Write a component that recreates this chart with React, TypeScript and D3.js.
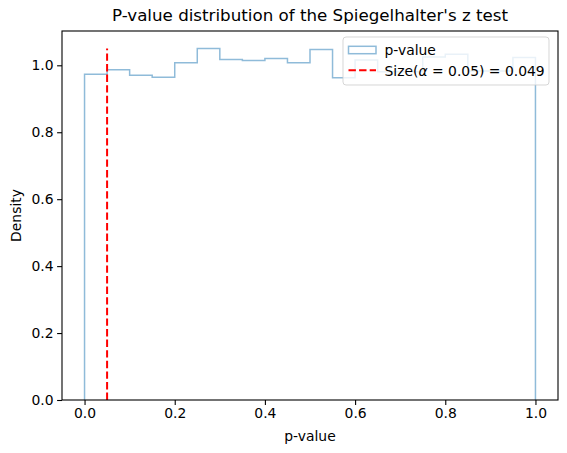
import React, { useRef, useEffect } from 'react';
import * as d3 from 'd3';

// bin edges: 20 equal bins on [0, 1]
const binEdges: number[] = d3.range(21).map((i) => i / 20);
// density of each bin
const densities: number[] = [
  0.973, 0.987, 0.970, 0.964, 1.008, 1.050, 1.017, 1.014, 1.020, 1.008,
  1.047, 0.963, 1.016, 0.981, 0.981, 1.025, 1.033, 0.983, 0.983, 1.023,
];
const xTicks: number[] = [0, 0.2, 0.4, 0.6, 0.8, 1.0];
const yTicks: number[] = [0, 0.2, 0.4, 0.6, 0.8, 1.0];
const alphaLevel = 0.05;
const sizeValue = 0.049;

const W = 567;
const H = 453;
const FONT = 'DejaVu Sans, sans-serif';
const HIST_COLOR = '#8fbbd9';

export const PValueHist = () => {
  const ref = useRef<SVGSVGElement>(null);

  useEffect(() => {
    if (!ref.current) return;
    const svg = d3.select(ref.current);
    svg.selectAll('*').remove();

    const margin = { left: 62, right: 9, top: 31, bottom: 53 };
    const x = d3.scaleLinear().domain([-0.05, 1.05]).range([margin.left, W - margin.right]);
    const yMax = d3.max(densities)! * 1.05;
    const y = d3.scaleLinear().domain([0, yMax]).range([H - margin.bottom, margin.top]);

    // step outline of the histogram
    const pts: [number, number][] = [[binEdges[0], 0]];
    densities.forEach((d, i) => pts.push([binEdges[i], d]));
    pts.push([binEdges[20], densities[19]]);
    pts.push([binEdges[20], 0]);
    const line = d3
      .line<[number, number]>()
      .x((p) => x(p[0]))
      .y((p) => y(p[1]))
      .curve(d3.curveStepAfter);

    svg
      .append('path')
      .attr('d', line(pts))
      .attr('fill', 'none')
      .attr('stroke', HIST_COLOR)
      .attr('stroke-width', 1.5);

    // size marker at alpha
    svg
      .append('line')
      .attr('x1', x(alphaLevel))
      .attr('x2', x(alphaLevel))
      .attr('y1', y(0))
      .attr('y2', y(d3.max(densities)!))
      .attr('stroke', 'red')
      .attr('stroke-width', 2)
      .attr('stroke-dasharray', '7.4,3.2');

    // axes
    const xAxis = svg
      .append('g')
      .attr('transform', `translate(0,${H - margin.bottom})`)
      .call(d3.axisBottom(x).tickValues(xTicks).tickFormat(d3.format('.1f')).tickSizeOuter(0).tickSize(4.9));
    const yAxis = svg
      .append('g')
      .attr('transform', `translate(${margin.left},0)`)
      .call(d3.axisLeft(y).tickValues(yTicks).tickFormat(d3.format('.1f')).tickSizeOuter(0).tickSize(4.9));
    [xAxis, yAxis].forEach((g) => {
      g.select('.domain').remove();
      g.selectAll('text').attr('font-family', FONT).attr('font-size', 13.9).attr('fill', '#000');
      g.selectAll('line').attr('stroke', '#000').attr('stroke-width', 1.1);
    });
    xAxis.selectAll('text').attr('dy', '0.71em').attr('y', 8.4);
    yAxis.selectAll('text').attr('x', -8.4);

    // frame
    svg
      .append('rect')
      .attr('x', margin.left)
      .attr('y', margin.top)
      .attr('width', W - margin.right - margin.left)
      .attr('height', H - margin.bottom - margin.top)
      .attr('fill', 'none')
      .attr('stroke', '#000')
      .attr('stroke-width', 1.1);

    // labels
    svg
      .append('text')
      .attr('x', (margin.left + W - margin.right) / 2)
      .attr('y', 21)
      .attr('text-anchor', 'middle')
      .attr('font-family', FONT)
      .attr('font-size', 16.7)
      .text("P-value distribution of the Spiegelhalter's z test");
    svg
      .append('text')
      .attr('x', (margin.left + W - margin.right) / 2)
      .attr('y', 441)
      .attr('text-anchor', 'middle')
      .attr('font-family', FONT)
      .attr('font-size', 13.9)
      .text('p-value');
    svg
      .append('text')
      .attr('transform', `translate(21,${(margin.top + H - margin.bottom) / 2}) rotate(-90)`)
      .attr('text-anchor', 'middle')
      .attr('font-family', FONT)
      .attr('font-size', 13.9)
      .text('Density');

    // legend
    const lg = svg.append('g').attr('transform', 'translate(343,37)');
    lg.append('rect')
      .attr('width', 206)
      .attr('height', 48)
      .attr('rx', 3)
      .attr('fill', 'white')
      .attr('fill-opacity', 0.8)
      .attr('stroke', '#cccccc')
      .attr('stroke-opacity', 0.8);
    lg.append('rect')
      .attr('x', 5.5)
      .attr('y', 9.3)
      .attr('width', 27.5)
      .attr('height', 7.4)
      .attr('fill', 'none')
      .attr('stroke', HIST_COLOR)
      .attr('stroke-width', 1.5);
    lg.append('line')
      .attr('x1', 5.5)
      .attr('x2', 33)
      .attr('y1', 33.3)
      .attr('y2', 33.3)
      .attr('stroke', 'red')
      .attr('stroke-width', 2)
      .attr('stroke-dasharray', '7.4,3.2');
    lg.append('text')
      .attr('x', 41.5)
      .attr('y', 17.6)
      .attr('font-family', FONT)
      .attr('font-size', 13.9)
      .text('p-value');
    const t2 = lg
      .append('text')
      .attr('x', 41.5)
      .attr('y', 39.2)
      .attr('font-family', FONT)
      .attr('font-size', 13.9);
    t2.append('tspan').text('Size(');
    t2.append('tspan').attr('font-style', 'italic').text('α');
    t2.append('tspan').text(` = ${alphaLevel}) = ${sizeValue}`);
  }, []);

  return <svg ref={ref} width={W} height={H} style={{ display: 'block' }} />;
};

export default function App() {
  return (
    <div style={{ position: 'absolute', left: 0, top: 0, background: 'white' }}>
      <PValueHist />
    </div>
  );
}
